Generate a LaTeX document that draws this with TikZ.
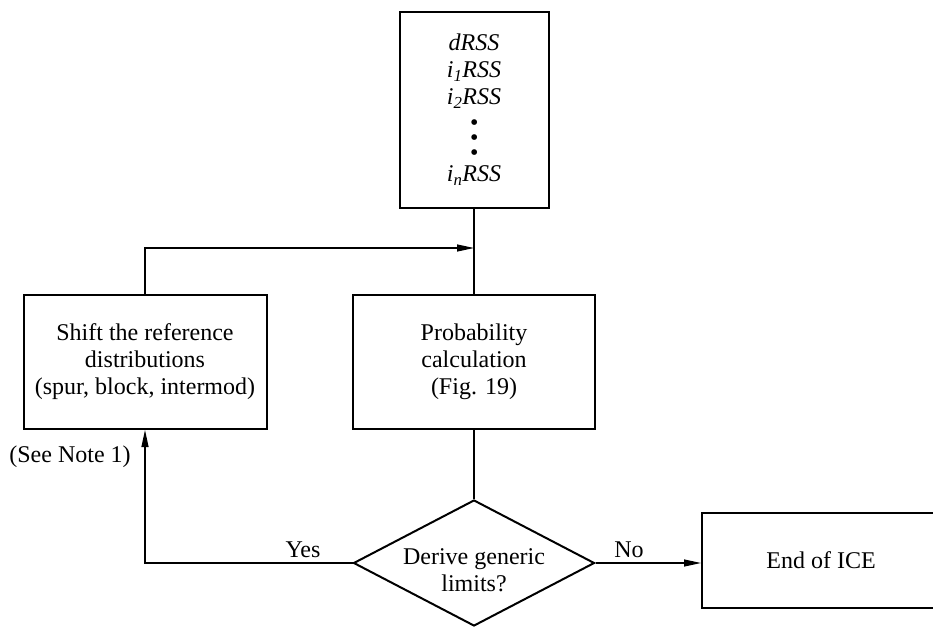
\documentclass[tikz,border=0pt]{standalone}
\usepackage{fontspec}
\setmainfont{Liberation Serif}
\usetikzlibrary{arrows.meta,shapes.geometric}

\begin{document}
\begin{tikzpicture}[x=1pt,y=-1pt,
    txt/.style={font=\fontsize{24}{27}\selectfont, align=center, inner sep=0pt},
    blockbox/.style={txt, draw, line width=2pt},
    decide/.style={draw, diamond, line width=2pt, inner sep=0pt, minimum width=241pt, minimum height=126pt},
    trunk/.style={line width=1.8pt},
    flow/.style={line width=1.2pt, -{Triangle[length=17pt,width=7pt]}}] %flow
    \useasboundingbox (0,0) rectangle (933,626);

    \node[blockbox, minimum width=149pt, minimum height=196pt,
          font=\fontsize{24}{27}\selectfont\itshape] (meas) at (474,110)
        {dRSS\\ i\textsubscript{1}RSS\\ i\textsubscript{2}RSS\\[-1.5pt]
         \textbullet\\[-12pt] \textbullet\\[-12pt] \textbullet\\[-5.5pt]
         i\textsubscript{n}RSS};
    \node[blockbox, minimum width=243pt, minimum height=134pt] (shift) at (145,362)
        {Shift the reference\\ distributions\\ (spur, block, intermod)};
    \node[blockbox, minimum width=242pt, minimum height=134pt] (prob) at (474,362)
        {Probability\\ calculation\\ (Fig. 19)};
    \node[decide] (derive) at (474,563) {};
    \node[txt] (derivetext) at (474,570) {Derive generic\\ limits?};
    \node[blockbox, minimum width=238pt, minimum height=95pt] (endice) at (821,560)
        {End of ICE};

    \coordinate (join) at (474,248);

    \draw[trunk] (meas.south) -- (prob.north);
    \draw[trunk] (prob.south) -- (derive.north);
    \draw[flow] (shift.north) |- (join);
    \draw[flow] (derive.west) -| (shift.south);
    \draw[flow] (derive.east) -- (derive.east -| endice.west);

    \node[txt, anchor=base] (yes) at (303,557) {Yes};
    \node[txt, anchor=base] (no) at (629,557) {No};
    \node[txt, anchor=base] (note) at (70,462) {(See Note 1)};
\end{tikzpicture}
\end{document}
